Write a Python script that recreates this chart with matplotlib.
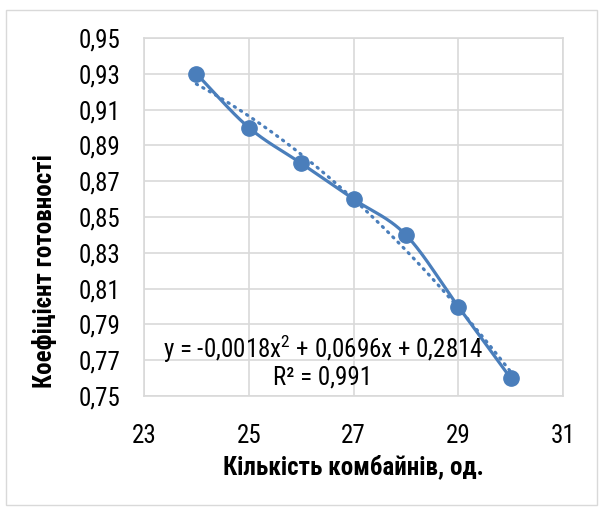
import numpy as np
import matplotlib
matplotlib.use("Agg")
import matplotlib.pyplot as plt
from matplotlib import font_manager
from matplotlib.patches import Rectangle

x_vals = [24, 25, 26, 27, 28, 29, 30]
y_vals = [0.93, 0.90, 0.88, 0.86, 0.84, 0.80, 0.76]
x_ticks = [23, 25, 27, 29, 31]
y_ticks = [0.75, 0.77, 0.79, 0.81, 0.83, 0.85, 0.87, 0.89, 0.91, 0.93, 0.95]
eq_text = "y = -0,0018x$^2$ + 0,0696x + 0,2814"
r2_text = "R² = 0,991"
xlabel = "Кількість комбайнів, од."
ylabel = "Коефіцієнт готовності"

names = {f.name for f in font_manager.fontManager.ttflist}
fam = "Roboto Condensed" if "Roboto Condensed" in names else "Liberation Sans"
plt.rcParams['font.family'] = [fam, 'DejaVu Sans']
plt.rcParams['mathtext.fontset'] = 'custom'
plt.rcParams['mathtext.rm'] = fam

color = '#4a7ebb'
W, H = 599, 509
fs = 18
fig = plt.figure(figsize=(W/100, H/100), dpi=100)
fig.patches.append(Rectangle((6/W, 4/H), 591/W, (H-14)/H, transform=fig.transFigure,
                             fill=False, edgecolor='#d9d9d9', lw=1))
ax = fig.add_axes([144/W, 1-396/H, (563-144)/W, (396-38)/H])

# Catmull-Rom smoothing (like Excel smoothed line)
xs = np.array(x_vals, float); ys = np.array(y_vals, float)
P = np.column_stack([xs, ys])
Pe = np.vstack([P[0] - (P[1]-P[0]), P, P[-1] + (P[-1]-P[-2])])
sx, sy = [], []
t = np.linspace(0, 1, 30)
for i in range(1, len(Pe)-2):
    p0, p1, p2, p3 = Pe[i-1], Pe[i], Pe[i+1], Pe[i+2]
    for tt in t:
        pt = 0.5*((2*p1) + (-p0+p2)*tt + (2*p0-5*p1+4*p2-p3)*tt**2 + (-p0+3*p1-3*p2+p3)*tt**3)
        sx.append(pt[0]); sy.append(pt[1])
ax.plot(sx, sy, color=color, lw=2.3, zorder=3, solid_capstyle='round')
ax.plot(xs, ys, 'o', color=color, ms=11, zorder=4)

coef = np.polyfit(xs, ys, 2)
tx = np.linspace(xs[0], xs[-1], 200)
ax.plot(tx, np.polyval(coef, tx), color=color, lw=2.3, ls=(0, (0.4, 1.9)),
        dash_capstyle='round', zorder=2)

ax.set_xlim(23, 31)
ax.set_ylim(0.75, 0.95)
ax.set_xticks(x_ticks)
ax.set_yticks(y_ticks)
ax.set_xticklabels([str(v) for v in x_ticks])
ax.set_yticklabels([f"{v:.2f}".replace('.', ',') for v in y_ticks])
ax.tick_params(length=0, labelsize=fs, colors='black')
ax.tick_params(axis='x', pad=20)
ax.tick_params(axis='y', pad=17)
ax.grid(True, color='#d9d9d9', lw=1.2)
ax.set_axisbelow(True)
for s in ax.spines.values():
    s.set_color('#d9d9d9'); s.set_linewidth(1.2)

fig.text(353/W, 1-467/H, xlabel, ha='center', va='center', fontsize=fs, fontweight='bold')
fig.text(45/W, 1-271/H, ylabel, ha='center', va='center', fontsize=fs, fontweight='bold', rotation=90)

fig.text(323/W, 1-349/H, eq_text, ha='center', va='center', fontsize=fs)
fig.text(323/W, 1-378/H, r2_text, ha='center', va='center', fontsize=fs)

fig.savefig('out.png', dpi=100)
